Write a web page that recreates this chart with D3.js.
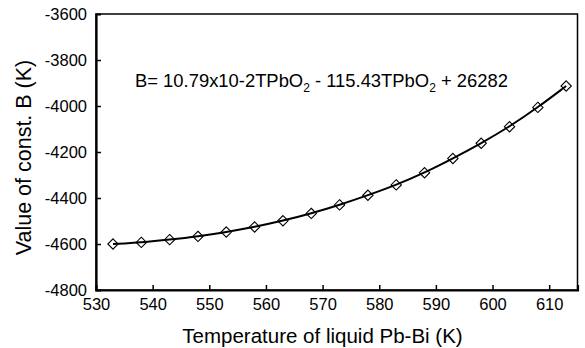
<!DOCTYPE html>
<html>
<head>
<meta charset="utf-8">
<script src="https://cdn.jsdelivr.net/npm/d3@7"></script>
<style>
  body { margin: 0; background: #fff; }
  text { font-family: "Liberation Sans", Arial, sans-serif; fill: #000; }
</style>
</head>
<body>
<div id="chart"></div>
<script>
// Data
const temps = [533, 538, 543, 548, 553, 558, 563, 568, 573, 578, 583, 588, 593, 598, 603, 608, 613];
const bValues = [-4600, -4593, -4581, -4567, -4548, -4526, -4499, -4467, -4430, -4388, -4343, -4290, -4228, -4162, -4090, -4006, -3913];
const xTicks = [530, 540, 550, 560, 570, 580, 590, 600, 610];
const yTicks = [-4800, -4600, -4400, -4200, -4000, -3800, -3600];

const width = 585, height = 348;
const margin = { top: 14, right: 7.5, bottom: 58, left: 96 };
const innerW = width - margin.left - margin.right;
const innerH = height - margin.top - margin.bottom;

const svg = d3.select('#chart').append('svg')
  .attr('width', width)
  .attr('height', height);

const g = svg.append('g').attr('transform', `translate(${margin.left},${margin.top})`);

const x = d3.scaleLinear().domain([530, 615]).range([0, innerW]);
const y = d3.scaleLinear().domain([-4800, -3600]).range([innerH, 0]);

// frame: top/right thinner
g.append('rect')
  .attr('width', innerW).attr('height', innerH)
  .attr('fill', 'none').attr('stroke', '#000').attr('stroke-width', 1.5);

// axes with inward ticks, plain hyphen for minus
const xAxis = g.append('g')
  .attr('transform', `translate(0,${innerH})`)
  .call(d3.axisBottom(x).tickValues(xTicks).tickSize(-5).tickPadding(8).tickFormat(d => String(d)));
const yAxis = g.append('g')
  .call(d3.axisLeft(y).tickValues(yTicks).tickSize(-5).tickPadding(9).tickFormat(d => String(d)));

[xAxis, yAxis].forEach(a => {
  a.attr('font-size', null).attr('font-family', null);
  a.select('.domain').attr('stroke', '#000').attr('stroke-width', 2.2);
  a.selectAll('.tick line').attr('stroke', '#000').attr('stroke-width', 1.5);
  a.selectAll('.tick text').style('font-size', '16.5px');
});
// drop ticks that sit on the frame corners
xAxis.selectAll('.tick line').filter(d => d === 530).remove();
yAxis.selectAll('.tick line').filter(d => d === -4800 || d === -3600).remove();

// fitted curve
const line = d3.line()
  .x((d, i) => x(temps[i]))
  .y(d => y(d))
  .curve(d3.curveBasis);

g.append('path')
  .datum(bValues)
  .attr('d', line)
  .attr('fill', 'none')
  .attr('stroke', '#000')
  .attr('stroke-width', 2);

// open diamond markers (line shows through)
const diamond = d3.symbol().type(d3.symbolDiamond2 || d3.symbolSquare).size(68);
g.selectAll('.pt')
  .data(bValues)
  .enter()
  .append('path')
  .attr('class', 'pt')
  .attr('d', diamond)
  .attr('transform', (d, i) => `translate(${x(temps[i])},${y(d)})`)
  .attr('fill', 'none')
  .attr('stroke', '#000')
  .attr('stroke-width', 1.1);

// equation
const eq = g.append('text')
  .attr('x', 39)
  .attr('y', 73)
  .style('font-size', '18.4px');
eq.append('tspan').text('B= 10.79x10-2TPbO');
eq.append('tspan').style('font-size', '12px').attr('dy', 5).text('2');
eq.append('tspan').attr('dy', -5).text(' - 115.43TPbO');
eq.append('tspan').style('font-size', '12px').attr('dy', 5).text('2');
eq.append('tspan').attr('dy', -5).text(' + 26282');

// axis labels
svg.append('text')
  .attr('x', 322.5)
  .attr('y', 343)
  .attr('text-anchor', 'middle')
  .style('font-size', '20.5px')
  .text('Temperature of liquid Pb-Bi (K)');

svg.append('text')
  .attr('transform', `translate(31,157.5) rotate(-90)`)
  .attr('text-anchor', 'middle')
  .style('font-size', '21.5px')
  .text('Value of const. B (K)');
</script>
</body>
</html>
